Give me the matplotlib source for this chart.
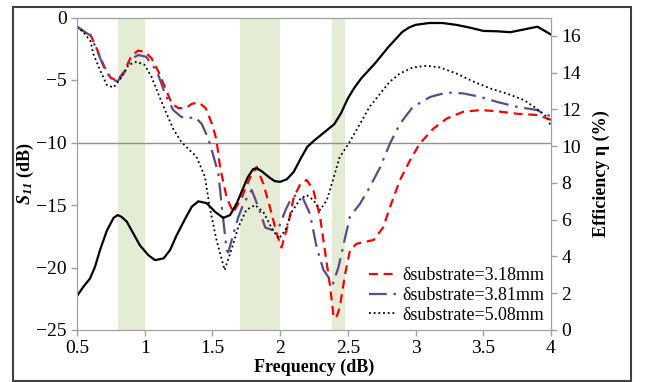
import matplotlib
matplotlib.use('Agg')
import matplotlib.pyplot as plt
from matplotlib.patches import Rectangle

plt.rcParams['font.family'] = ['Liberation Serif', 'DejaVu Serif']
plt.rcParams['mathtext.fontset'] = 'custom'
plt.rcParams['mathtext.rm'] = 'Liberation Serif'
plt.rcParams['mathtext.it'] = 'Liberation Serif:italic'
plt.rcParams['mathtext.bf'] = 'Liberation Serif:bold'
plt.rcParams['mathtext.bfit'] = 'Liberation Serif:italic:bold'

# efficiency (black solid, right axis)
f_eff = [0.5, 0.547, 0.596, 0.633, 0.67, 0.72, 0.77, 0.8, 0.83, 0.867, 0.916, 0.965, 1.027, 1.076,
         1.14, 1.187, 1.236, 1.3, 1.347, 1.396, 1.458, 1.519, 1.58, 1.63, 1.68, 1.72, 1.76, 1.8,
         1.83, 1.87, 1.92, 1.96, 2.0, 2.05, 2.1, 2.15, 2.2, 2.25, 2.3, 2.35, 2.4, 2.45, 2.5,
         2.55, 2.6, 2.65, 2.7, 2.75, 2.8, 2.85, 2.9, 2.95, 3.0, 3.1, 3.2, 3.3, 3.4, 3.5,
         3.6, 3.7, 3.8, 3.9, 4.0]
eff = [1.85, 2.35, 2.8, 3.44, 4.35, 5.4, 6.1, 6.25, 6.15, 5.9, 5.25, 4.6, 4.07, 3.8,
       3.9, 4.35, 5.16, 6.07, 6.7, 7.0, 6.9, 6.43, 6.1, 6.25, 6.9, 7.6, 8.3, 8.75,
       8.8, 8.6, 8.3, 8.1, 8.06, 8.2, 8.6, 9.3, 9.96, 10.3, 10.6, 10.9, 11.2, 11.8, 12.6,
       13.2, 13.7, 14.1, 14.5, 14.95, 15.4, 15.8, 16.2, 16.45, 16.6, 16.7, 16.7, 16.6, 16.45, 16.27,
       16.25, 16.2, 16.35, 16.5, 16.07]

# S11 for delta = 3.18 mm (red dashed)
f_318 = [0.5, 0.55, 0.6, 0.65, 0.7, 0.75, 0.8, 0.85, 0.9, 0.95, 1.0, 1.05, 1.1, 1.15, 1.2,
         1.25, 1.3, 1.35, 1.4, 1.45, 1.5, 1.53, 1.556, 1.605, 1.654, 1.716, 1.78, 1.827, 1.876,
         1.925, 1.975, 2.01, 2.06, 2.1, 2.15, 2.196, 2.245, 2.295, 2.33, 2.37, 2.395, 2.415,
         2.44, 2.48, 2.516, 2.565, 2.69, 2.76, 2.82, 2.885, 2.96, 3.03, 3.13, 3.23, 3.35,
         3.48, 3.6, 3.75, 3.895, 3.98, 4.0]
s_318 = [-0.74, -1.1, -1.4, -2.6, -3.9, -4.85, -5.0, -4.3, -3.1, -2.65, -2.74, -3.25, -4.3, -5.6, -6.9,
         -7.25, -7.25, -6.9, -6.8, -7.25, -8.6, -9.8, -11.95, -14.4, -15.6, -14.4, -12.75, -11.95, -13.3,
         -15.2, -17.3, -18.4, -16.5, -14.4, -13.3, -13.0, -13.8, -15.96, -18.6, -21.6, -24.0, -24.0,
         -23.2, -20.5, -18.6, -18.1, -17.8, -16.8, -14.9, -13.0, -11.4, -10.1, -8.9, -8.08, -7.55,
         -7.4, -7.5, -7.7, -7.8, -8.1, -8.2]

# S11 for delta = 3.81 mm (purple dash-dot)
f_381 = [0.5, 0.55, 0.6, 0.65, 0.7, 0.75, 0.8, 0.85, 0.9, 0.953, 1.01, 1.09, 1.15, 1.21, 1.27,
         1.32, 1.37, 1.42, 1.47, 1.5, 1.544, 1.57, 1.605, 1.617, 1.655, 1.69, 1.73, 1.79, 1.84,
         1.89, 1.94, 1.99, 2.04, 2.085, 2.12, 2.17, 2.22, 2.27, 2.32, 2.39, 2.43, 2.48, 2.516,
         2.59, 2.66, 2.74, 2.81, 2.885, 2.98, 3.11, 3.23, 3.35, 3.48, 3.6, 3.75, 3.895, 3.97, 4.0]
s_381 = [-0.74, -1.1, -1.45, -2.7, -4.0, -4.95, -5.1, -4.4, -3.3, -3.0, -3.14, -4.3, -6.1, -7.4, -7.95,
         -8.08, -7.95, -8.5, -9.7, -10.8, -12.5, -15.2, -18.6, -18.8, -17.3, -16.0, -14.9, -13.8, -15.2,
         -16.8, -17.0, -16.8, -15.4, -14.4, -14.2, -14.5, -15.7, -18.4, -20.2, -21.3, -20.0, -17.6, -15.9,
         -14.9, -13.6, -11.95, -10.1, -8.5, -7.15, -6.35, -6.0, -6.07, -6.35, -6.75, -7.15, -7.4, -7.8, -7.9]

# S11 for delta = 5.08 mm (black dotted)
f_508 = [0.5, 0.55, 0.6, 0.62, 0.67, 0.72, 0.77, 0.83, 0.88, 0.94, 1.0, 1.05, 1.1, 1.15, 1.21,
         1.27, 1.33, 1.38, 1.445, 1.48, 1.53, 1.59, 1.64, 1.69, 1.75, 1.815, 1.876, 1.94, 1.99,
         2.04, 2.085, 2.15, 2.196, 2.245, 2.295, 2.345, 2.39, 2.44, 2.5, 2.59, 2.66, 2.74, 2.81,
         2.885, 2.98, 3.08, 3.18, 3.3, 3.43, 3.55, 3.67, 3.8, 3.895, 3.97, 4.0]
s_508 = [-0.74, -1.2, -1.9, -2.9, -4.2, -5.4, -5.6, -4.75, -3.8, -3.54, -3.8, -4.75, -6.1, -7.4, -8.9,
         -9.95, -10.6, -11.1, -12.75, -15.2, -17.8, -20.2, -18.6, -16.8, -15.4, -15.0, -15.56, -16.9, -17.7,
         -17.0, -15.56, -14.5, -14.2, -14.6, -15.4, -14.6, -13.0, -11.15, -10.2, -8.5, -7.15, -6.07, -5.14,
         -4.47, -4.0, -3.86, -4.0, -4.47, -5.14, -5.67, -6.07, -6.6, -7.3, -7.95, -8.75]

bands = [(0.8, 1.0), (1.7, 2.0), (2.38, 2.48)]
labels = ['δsubstrate=3.18mm', 'δsubstrate=3.81mm', 'δsubstrate=5.08mm']

fig = plt.figure(figsize=(6.46, 3.82), dpi=100)
ax = fig.add_axes([77/646, 1-330/382, 474/646, 312.5/382])
ax2 = ax.twinx()

grey = '#a0a0a0'
for a, b in bands:
    ax.axvspan(a, b, color='#e4ecd5', lw=0, zorder=0)
ax.axhline(-10, color='#909090', lw=1, zorder=1)

ax.plot(f_318, s_318, color='#ff0000', lw=1.6, dashes=(4, 2.6), label=labels[0], zorder=3)
ax.plot(f_381, s_381, color='#5e4a8a', lw=1.6, dashes=(8, 3, 1.2, 3), label=labels[1], zorder=3)
ax.plot(f_508, s_508, color='black', lw=1.3, dashes=(1, 1.6), label=labels[2], zorder=3)
ax2.plot(f_eff, eff, color='black', lw=1.6)

ax.set_xlim(0.5, 4)
ax.set_ylim(-25, 0)
ax2.set_ylim(0, 17)
ax.set_xticks([0.5, 1, 1.5, 2, 2.5, 3, 3.5, 4])
ax.set_xticklabels(['0.5', '1', '1.5', '2', '2.5', '3', '3.5', '4'])
ax.set_yticks([-25, -20, -15, -10, -5, 0])
ax2.set_yticks([0, 2, 4, 6, 8, 10, 12, 14, 16])

for a in (ax, ax2):
    for s in a.spines.values():
        s.set_color(grey)
    a.tick_params(colors=grey, labelcolor='black', labelsize=14, length=4, width=1, direction='out')
ax.spines['top'].set_color('#909090')

ax.set_xlabel('Frequency (dB)', fontsize=13, fontweight='bold', labelpad=1)
ax.set_ylabel(r'$\mathbfit{S}_{\mathbfit{11}}$ (dB)', fontsize=13, fontweight='bold', labelpad=0)
ax2.set_ylabel('Efficiency η (%)', fontsize=13, fontweight='bold', labelpad=8)

ax.legend(loc='lower right', bbox_to_anchor=(0.985, 0.02), frameon=False, fontsize=13,
          borderpad=0, borderaxespad=0, labelspacing=0.15, handlelength=1.5, handletextpad=0.3)

fig.patches.append(Rectangle((13/646, 1/382), 618/646, 374/382, transform=fig.transFigure,
                             fill=False, edgecolor='#404040', lw=1.5))

fig.savefig('out.png', dpi=100)
